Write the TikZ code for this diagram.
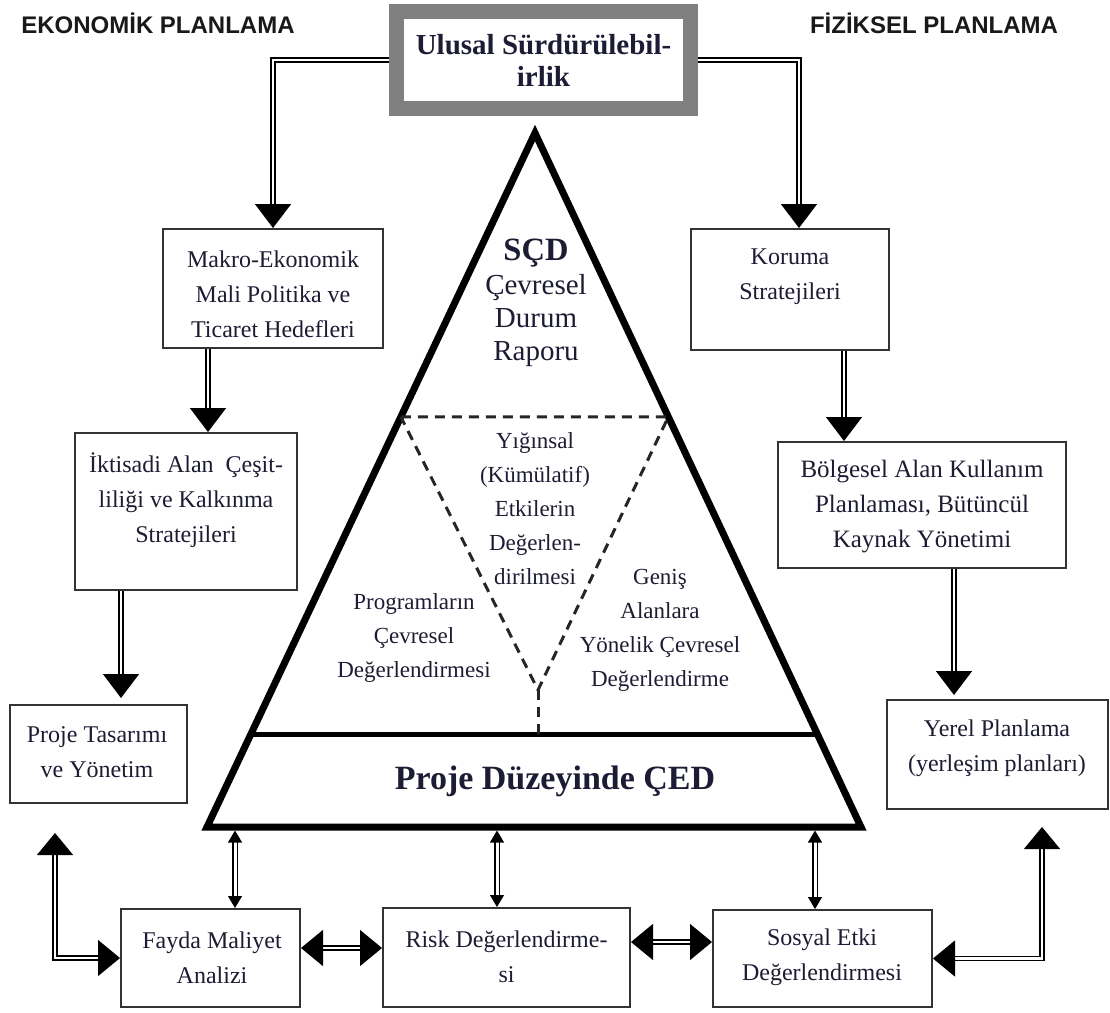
\documentclass[tikz,border=0pt]{standalone}
\usepackage{fontspec}
\setmainfont{Liberation Serif}
\newfontfamily\headfont{Liberation Sans}
\usetikzlibrary{arrows.meta,calc,positioning}

\definecolor{ink}{RGB}{28,28,52}
\definecolor{framegray}{RGB}{128,128,128}

\tikzset{
  box/.style={draw=black!80,line width=2pt,fill=white},
  txt/.style={align=center,text=ink,inner sep=0pt,font=\fontsize{24}{35}\selectfont},
  intxt/.style={align=center,text=ink,inner sep=0pt,font=\fontsize{23}{34}\selectfont},
  heading/.style={inner sep=0pt,text=black!90,font=\headfont\bfseries\fontsize{24}{28}\selectfont},
  dline/.style={double,double distance=2.6pt,line width=1.3pt},
  bigarr/.style={dline,-{Triangle[length=24pt,width=36pt]}},
  bigboth/.style={dline,{Triangle[length=22pt,width=36pt]}-{Triangle[length=22pt,width=36pt]}},
  smallboth/.style={dline,line width=1.1pt,double distance=3pt,{Triangle[length=12pt,width=14pt]}-{Triangle[length=12pt,width=14pt]}},
  dashline/.style={draw=black!85,line width=3pt,dash pattern=on 10pt off 7pt},
}

\begin{document}
\begin{tikzpicture}[x=1pt,y=-1pt]
  \useasboundingbox (0,0) rectangle (1110,1012);

  \node[heading] (eko) at (158,23) {EKONOMİK PLANLAMA};
  \node[heading] (fiz) at (934,23) {FİZİKSEL PLANLAMA};

  \node[draw=framegray,line width=15pt,fill=white,minimum width=294pt,minimum height=97pt,
        align=center,text=ink,inner sep=0pt,font=\bfseries\fontsize{29}{32}\selectfont]
        (ulusal) at (543.5,60) {Ulusal Sürdürülebil-\\irlik};

  % pyramid
  \coordinate (apex) at (535,133);
  \coordinate (bl) at (207,827);
  \coordinate (br) at (861,827);
  \draw[line width=7pt,line join=miter] (apex) -- (bl) -- (br) -- cycle;
  \coordinate (sl) at ($(apex)!0.8674!(bl)$);
  \coordinate (sr) at ($(apex)!0.8674!(br)$);
  \draw[line width=5pt] (sl) -- (sr);
  \coordinate (dl) at ($(apex)!0.409!(bl)$);
  \coordinate (dr) at ($(apex)!0.409!(br)$);
  \coordinate (dv) at (538,690);
  \draw[dashline] (dl) -- (dr) -- (dv) -- cycle;
  \draw[dashline] (dv) -- (dv |- sl);

  \node[anchor=base,text=ink,font=\bfseries\fontsize{32.5}{34}\selectfont] (scd) at (536,260) {SÇD};
  \node[intxt,font=\fontsize{29}{33}\selectfont] (cdr) at (536,320.5) {Çevresel\\Durum\\Raporu};
  \node[intxt] (yigin) at (535,509) {Yığınsal\\(Kümülatif)\\Etkilerin\\Değerlen-\\dirilmesi};
  \node[intxt] (prog) at (414,638) {Programların\\Çevresel\\Değerlendirmesi};
  \node[intxt] (genis) at (660,630) {Geniş\\Alanlara\\Yönelik Çevresel\\Değerlendirme};
  \node[anchor=base,text=ink,font=\bfseries\fontsize{34}{36}\selectfont] (ced) at (555,789) {Proje Düzeyinde ÇED};

  % left column
  \node[box,minimum width=220pt,minimum height=119pt] (makro) at (273,288.5) {};
  \node[txt] (makrotxt) at (273,294) {Makro-Ekonomik\\Mali Politika ve\\Ticaret Hedefleri};
  \node[box,minimum width=222pt,minimum height=157pt] (iktisadi) at (186,511.5) {};
  \node[txt] (iktisaditxt) at (186,500) {İktisadi Alan\ \ Çeşit-\\liliği ve Kalkınma\\Stratejileri};
  \node[box,minimum width=177pt,minimum height=98pt] (proje) at (98.5,754) {};
  \node[txt] (projetxt) at (97,752.5) {Proje Tasarımı\\ve Yönetim};

  % right column
  \node[box,minimum width=198pt,minimum height=121pt] (koruma) at (790,289.5) {};
  \node[txt] (korumatxt) at (790,276.5) {Koruma\\Stratejileri};
  \node[box,minimum width=288pt,minimum height=126pt] (bolgesel) at (922,505) {};
  \node[txt,font=\fontsize{25}{35}\selectfont] (bolgeseltxt) at (922,507) {Bölgesel Alan Kullanım\\Planlaması, Bütüncül\\Kaynak Yönetimi};
  \node[box,minimum width=221pt,minimum height=109pt] (yerel) at (997.5,754.5) {};
  \node[txt] (yereltxt) at (997,748.5) {Yerel Planlama\\(yerleşim planları)};

  % bottom row
  \node[box,minimum width=179pt,minimum height=98pt] (fayda) at (210.5,958) {};
  \node[txt] (faydatxt) at (212,957.5) {Fayda Maliyet\\Analizi};
  \node[box,minimum width=247pt,minimum height=99pt] (risk) at (506.5,957.5) {};
  \node[txt] (risktxt) at (506.5,956.5) {Risk Değerlendirme-\\si};
  \node[box,minimum width=219pt,minimum height=97pt] (sosyal) at (822.5,958.5) {};
  \node[txt] (sosyaltxt) at (822,957.5) {Sosyal Etki\\Değerlendirmesi};

  % connectors
  \draw[bigarr] (ulusal.west) -| (makro.north);
  \draw[bigarr] (ulusal.east) -| ([xshift=9pt]koruma.north);
  \draw[bigarr] ([xshift=-65pt]makro.south) -- ([xshift=-65pt]makro.south |- iktisadi.north);
  \draw[bigarr,shorten >=6pt] ([xshift=-65pt]iktisadi.south) -- ([xshift=-65pt]iktisadi.south |- proje.north);
  \draw[bigarr] ([xshift=54pt]koruma.south) -- ([xshift=54pt]koruma.south |- bolgesel.north);
  \draw[bigarr,shorten >=4pt] ([xshift=32pt]bolgesel.south) -- ([xshift=32pt]bolgesel.south |- yerel.north);

  \draw[smallboth,shorten >=3.5pt] ([xshift=24.5pt]fayda.north) -- ([xshift=24.5pt]fayda.north |- bl);
  \draw[smallboth,shorten >=3.5pt] ([xshift=-9.5pt]risk.north) -- ([xshift=-9.5pt]risk.north |- bl);
  \draw[smallboth,shorten >=3.5pt] ([xshift=-7.5pt]sosyal.north) -- ([xshift=-7.5pt]sosyal.north |- bl);

  \draw[bigboth] ([yshift=10pt]fayda.east) -- ([yshift=10pt]fayda.east -| risk.west);
  \draw[bigboth] ([yshift=15.5pt]risk.east) -- ([yshift=15.5pt]risk.east -| sosyal.west);

  \coordinate (pjend) at (55,833);
  \coordinate (yrend) at (1042,827);
  \draw[bigboth] (fayda.west) -| (pjend);
  \draw[bigboth] (sosyal.east) -| (yrend);
\end{tikzpicture}
\end{document}
